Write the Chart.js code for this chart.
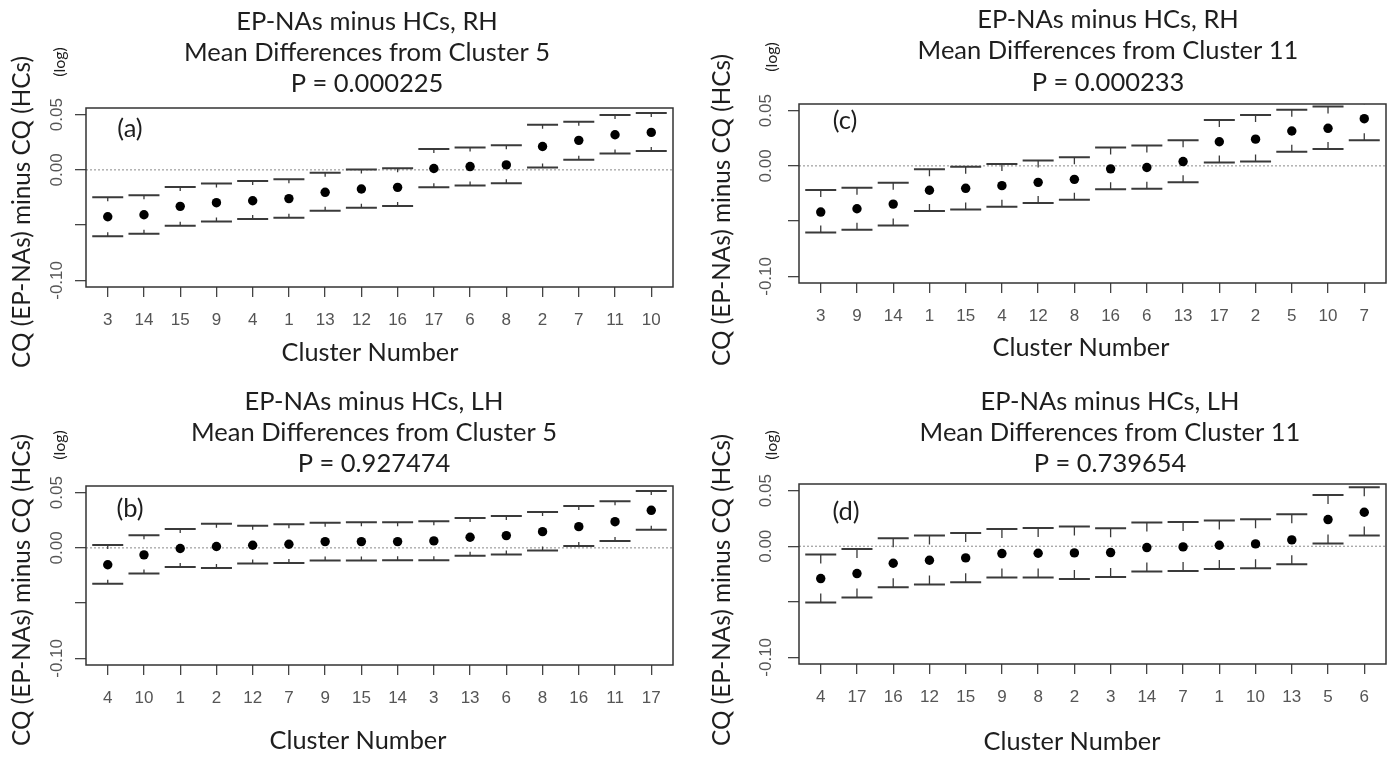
<!DOCTYPE html>
<html>
<head>
<meta charset="utf-8">
<title>EP-NAs minus HCs</title>
<script src="https://cdn.jsdelivr.net/npm/chart.js@4.4.1/dist/chart.umd.min.js"></script>
<style>
  html, body { margin: 0; padding: 0; background: #fff; }
  #wrap { position: relative; width: 1400px; height: 758px; overflow: hidden; }
  .panel { position: absolute; width: 700px; height: 379px; }
  .panel canvas { display: block; }
</style>
</head>
<body>
<div id="wrap">
  <div class="panel" style="left:0;top:0"><canvas id="chartA" width="700" height="379"></canvas></div>
  <div class="panel" style="left:700px;top:0"><canvas id="chartC" width="700" height="379"></canvas></div>
  <div class="panel" style="left:0;top:379px"><canvas id="chartB" width="700" height="379"></canvas></div>
  <div class="panel" style="left:700px;top:379px"><canvas id="chartD" width="700" height="379"></canvas></div>
</div>
<script>
// === Datos ===
// (a) RH, diferencias respecto al cluster 5
var clustersA = ['3', '14', '15', '9', '4', '1', '13', '12', '16', '17', '6', '8', '2', '7', '11', '10'];
var meanA  = [-0.0424, -0.0406, -0.0330, -0.0297, -0.0279, -0.0260, -0.0203, -0.0173, -0.0158, 0.0012, 0.0030, 0.0045, 0.0212, 0.0267, 0.0318, 0.0339];
var upperA = [-0.0248, -0.0230, -0.0155, -0.0124, -0.0100, -0.0085, -0.0027, 0.0003, 0.0015, 0.0188, 0.0203, 0.0224, 0.0409, 0.0436, 0.0497, 0.0515];
var lowerA = [-0.0600, -0.0579, -0.0506, -0.0467, -0.0445, -0.0433, -0.0370, -0.0342, -0.0327, -0.0158, -0.0142, -0.0121, 0.0021, 0.0091, 0.0148, 0.0170];

// (b) LH, cluster 5
var clustersB = ['4', '10', '1', '2', '12', '7', '9', '15', '14', '3', '13', '6', '8', '16', '11', '17'];
var meanB  = [-0.0153, -0.0063, -0.0006, 0.0012, 0.0024, 0.0033, 0.0057, 0.0057, 0.0057, 0.0063, 0.0096, 0.0111, 0.0147, 0.0192, 0.0237, 0.0340];
var upperB = [0.0027, 0.0114, 0.0171, 0.0219, 0.0201, 0.0213, 0.0228, 0.0231, 0.0231, 0.0240, 0.0271, 0.0289, 0.0325, 0.0379, 0.0421, 0.0514];
var lowerB = [-0.0325, -0.0231, -0.0174, -0.0183, -0.0141, -0.0138, -0.0114, -0.0114, -0.0111, -0.0111, -0.0072, -0.0060, -0.0024, 0.0018, 0.0063, 0.0165];

// (c) RH, cluster 11
var clustersC = ['3', '9', '14', '1', '15', '4', '12', '8', '16', '6', '13', '17', '2', '5', '10', '7'];
var meanC  = [-0.0418, -0.0388, -0.0346, -0.0221, -0.0203, -0.0179, -0.0149, -0.0122, -0.0027, -0.0015, 0.0039, 0.0218, 0.0242, 0.0316, 0.0340, 0.0427];
var upperC = [-0.0218, -0.0197, -0.0152, -0.0030, -0.0009, 0.0018, 0.0048, 0.0078, 0.0167, 0.0185, 0.0233, 0.0415, 0.0460, 0.0507, 0.0537, 0.0620];
var lowerC = [-0.0603, -0.0579, -0.0540, -0.0409, -0.0394, -0.0370, -0.0337, -0.0307, -0.0212, -0.0206, -0.0149, 0.0030, 0.0039, 0.0128, 0.0152, 0.0233];

// (d) LH, cluster 11
var clustersD = ['4', '17', '16', '12', '15', '9', '8', '2', '3', '14', '7', '1', '10', '13', '5', '6'];
var meanD  = [-0.0291, -0.0246, -0.0153, -0.0126, -0.0105, -0.0066, -0.0063, -0.0060, -0.0057, -0.0012, -0.0006, 0.0009, 0.0021, 0.0057, 0.0240, 0.0306];
var upperD = [-0.0075, -0.0024, 0.0072, 0.0096, 0.0120, 0.0156, 0.0165, 0.0177, 0.0162, 0.0213, 0.0219, 0.0231, 0.0243, 0.0288, 0.0462, 0.0531];
var lowerD = [-0.0507, -0.0462, -0.0369, -0.0345, -0.0324, -0.0282, -0.0282, -0.0294, -0.0276, -0.0228, -0.0222, -0.0204, -0.0198, -0.0162, 0.0024, 0.0096];

var titlesA = ['EP-NAs minus HCs, RH', 'Mean Differences from Cluster 5', 'P = 0.000225'];
var titlesB = ['EP-NAs minus HCs, LH', 'Mean Differences from Cluster 5', 'P = 0.927474'];
var titlesC = ['EP-NAs minus HCs, RH', 'Mean Differences from Cluster 11', 'P = 0.000233'];
var titlesD = ['EP-NAs minus HCs, LH', 'Mean Differences from Cluster 11', 'P = 0.739654'];

var yTicks = [-0.10, -0.05, 0.00, 0.05];
var yTickLabels = ['-0.10', '', '0.00', '0.05'];
var xTitle = 'Cluster Number';
var yTitle = 'CQ (EP-NAs) minus CQ (HCs)';

// === Fuentes (tamaño ajustado al ancho del original) ===
var FONT_TXT = 'Lato, "Open Sans", sans-serif';
var FONT_NUM = '"Liberation Sans", Arial, sans-serif';
var mctx = document.createElement('canvas').getContext('2d');
function fitSize(text, width) {
  mctx.font = '100px ' + FONT_TXT;
  return 100 * width / mctx.measureText(text).width;
}
var SZ_TITLE = fitSize('Mean Differences from Cluster 5', 366);
var SZ_YTITLE = fitSize(yTitle, 312);
var SZ_XTITLE = fitSize(xTitle, 177);
var SZ_LOG = 16;

// === Plugin: linea cero, barras de error, caja y textos ===
var deco = {
  id: 'deco',
  beforeDatasetsDraw: function (chart, args, o) {
    var ctx = chart.ctx, a = chart.chartArea;
    var xs = chart.scales.x, ys = chart.scales.y;
    ctx.save();
    ctx.beginPath();
    ctx.rect(a.left, a.top, a.right - a.left, a.bottom - a.top);
    ctx.clip();

    var y0 = ys.getPixelForValue(0);
    ctx.strokeStyle = '#8a8a8a';
    ctx.lineWidth = 1;
    ctx.setLineDash([2, 2]);
    ctx.beginPath();
    ctx.moveTo(a.left, y0);
    ctx.lineTo(a.right, y0);
    ctx.stroke();
    ctx.setLineDash([]);

    ctx.strokeStyle = '#3a3a3a';
    for (var i = 0; i < o.upper.length; i++) {
      var px = xs.getPixelForValue(i + 1);
      var yu = ys.getPixelForValue(o.upper[i]);
      var yl = ys.getPixelForValue(o.lower[i]);
      ctx.lineWidth = 2;
      ctx.beginPath();
      ctx.moveTo(px - 15.5, yu); ctx.lineTo(px + 15.5, yu);
      ctx.moveTo(px - 15.5, yl); ctx.lineTo(px + 15.5, yl);
      ctx.stroke();
      ctx.lineWidth = 1.3;
      ctx.beginPath();
      ctx.moveTo(px, yu); ctx.lineTo(px, yu + o.stem);
      ctx.moveTo(px, yl); ctx.lineTo(px, yl - o.stem);
      ctx.stroke();
    }
    ctx.restore();
  },
  afterDraw: function (chart, args, o) {
    var ctx = chart.ctx, a = chart.chartArea, ys = chart.scales.y;
    ctx.save();
    ctx.strokeStyle = '#333';
    ctx.lineWidth = 1.5;
    ctx.strokeRect(a.left, a.top, a.right - a.left, a.bottom - a.top);

    ctx.fillStyle = '#1e1e1e';
    ctx.textAlign = 'center';
    ctx.textBaseline = 'middle';
    ctx.font = SZ_TITLE + 'px ' + FONT_TXT;
    o.titles.forEach(function (t, k) { ctx.fillText(t, o.titleX, o.titleY[k]); });
    ctx.fillText(o.letter, o.letterX, o.letterY);

    ctx.font = SZ_XTITLE + 'px ' + FONT_TXT;
    ctx.fillText(xTitle, o.xTitleX, o.xTitleY);

    ctx.save();
    ctx.font = SZ_YTITLE + 'px ' + FONT_TXT;
    ctx.translate(o.yTitleX, o.yTitleY);
    ctx.rotate(-Math.PI / 2);
    ctx.fillText(yTitle, 0, 0);
    ctx.restore();

    ctx.save();
    ctx.font = SZ_LOG + 'px ' + FONT_TXT;
    ctx.translate(o.logX, o.logY);
    ctx.rotate(-Math.PI / 2);
    ctx.fillText('(log)', 0, 0);
    ctx.restore();

    ctx.fillStyle = '#555';
    ctx.font = '17px ' + FONT_NUM;
    yTicks.forEach(function (v, k) {
      if (!yTickLabels[k]) return;
      ctx.save();
      ctx.translate(o.yLabX, ys.getPixelForValue(v));
      ctx.rotate(-Math.PI / 2);
      ctx.fillText(yTickLabels[k], 0, 0);
      ctx.restore();
    });
    ctx.restore();
  }
};

function makePanel(id, clusters, mean, upper, lower, titles, lay) {
  var canvas = document.getElementById(id);
  return new Chart(canvas, {
    type: 'scatter',
    data: {
      datasets: [{
        data: mean.map(function (v, i) { return { x: i + 1, y: v }; }),
        backgroundColor: '#000',
        borderColor: '#000',
        borderWidth: 0,
        pointRadius: 4.7,
        pointHoverRadius: 4.7
      }]
    },
    options: {
      responsive: false,
      animation: false,
      events: [],
      layout: { padding: { top: lay.padTop, right: lay.padRight, left: 0, bottom: 0 } },
      plugins: {
        legend: { display: false },
        tooltip: { enabled: false },
        title: { display: false },
        deco: Object.assign({ upper: upper, lower: lower, titles: titles }, lay)
      },
      scales: {
        x: {
          type: 'linear',
          min: 0.4,
          max: 16.6,
          afterBuildTicks: function (s) {
            s.ticks = clusters.map(function (c, i) { return { value: i + 1 }; });
          },
          afterFit: function (s) { s.height = lay.xHeight; },
          ticks: {
            autoSkip: false,
            maxRotation: 0,
            padding: 13,
            color: '#555',
            font: { family: FONT_NUM, size: 17 },
            callback: function (v, i) { return clusters[i]; }
          },
          grid: { drawOnChartArea: false, drawTicks: true, tickLength: 10, color: '#444', lineWidth: 1.3 },
          border: { display: false }
        },
        y: {
          min: -0.106,
          max: 0.056,
          afterBuildTicks: function (s) {
            s.ticks = yTicks.map(function (v) { return { value: v }; });
          },
          afterFit: function (s) { s.width = lay.yWidth; },
          ticks: { display: false },
          grid: { drawOnChartArea: false, drawTicks: true, tickLength: 11, color: '#444', lineWidth: 1.3 },
          border: { display: false }
        }
      }
    },
    plugins: [deco]
  });
}

if (typeof Chart === 'undefined') {
  console.error('Chart.js no está cargado.');
} else {
  makePanel('chartA', clustersA, meanA, upperA, lowerA, titlesA, {
    padTop: 108, padRight: 27, yWidth: 86, xHeight: 92,
    titleX: 367, titleY: [22, 53, 84], letter: '(a)', letterX: 130, letterY: 129,
    xTitleX: 370, xTitleY: 353, yTitleX: 22, yTitleY: 212, logX: 60, logY: 62, yLabX: 57, stem: 4
  });
  makePanel('chartC', clustersC, meanC, upperC, lowerC, titlesC, {
    padTop: 104, padRight: 14, yWidth: 99, xHeight: 96,
    titleX: 408, titleY: [20, 51, 83], letter: '(c)', letterX: 145, letterY: 121,
    xTitleX: 381, xTitleY: 348, yTitleX: 22, yTitleY: 210, logX: 72, logY: 57, yLabX: 66, stem: 7
  });
  makePanel('chartB', clustersB, meanB, upperB, lowerB, titlesB, {
    padTop: 107, padRight: 27, yWidth: 86, xHeight: 93,
    titleX: 374, titleY: [23, 54, 85], letter: '(b)', letterX: 130, letterY: 130,
    xTitleX: 358, xTitleY: 362, yTitleX: 22, yTitleY: 211, logX: 60, logY: 66, yLabX: 57, stem: 4
  });
  makePanel('chartD', clustersD, meanD, upperD, lowerD, titlesD, {
    padTop: 105, padRight: 14, yWidth: 99, xHeight: 94,
    titleX: 410, titleY: [23, 54, 85], letter: '(d)', letterX: 146, letterY: 133,
    xTitleX: 372, xTitleY: 363, yTitleX: 22, yTitleY: 211, logX: 72, logY: 66, yLabX: 66, stem: 9
  });
}
</script>
</body>
</html>
